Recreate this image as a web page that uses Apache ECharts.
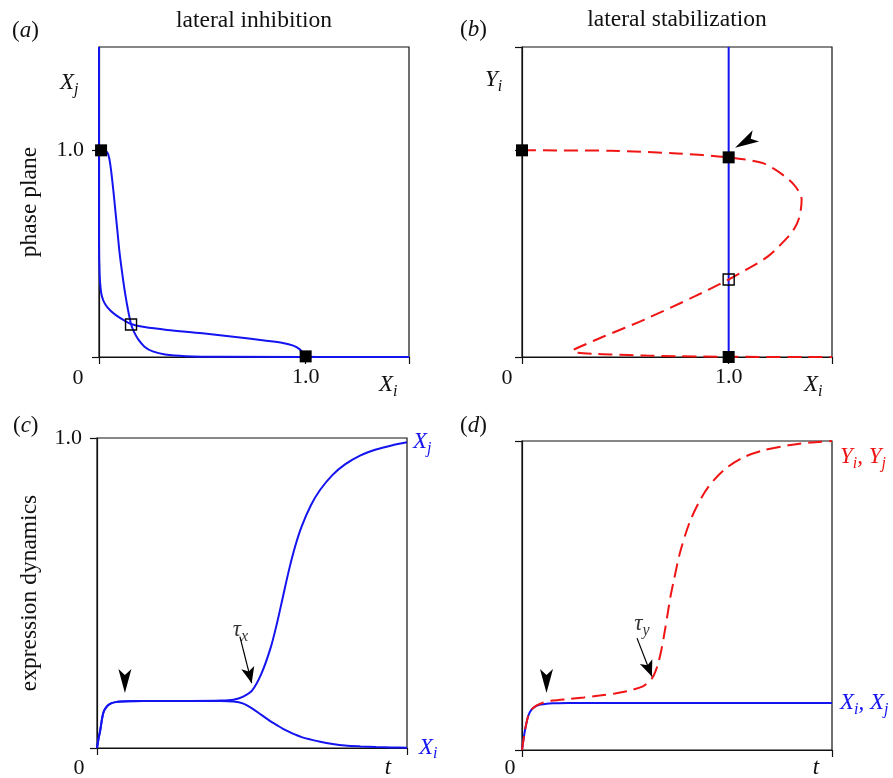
<!DOCTYPE html>
<html>
<head>
<meta charset="utf-8">
<title>lateral inhibition / lateral stabilization</title>
<script src="https://cdn.jsdelivr.net/npm/echarts@6.0.0/dist/echarts.min.js"></script>
<style>
  html, body { margin: 0; padding: 0; background: #fff; }
  #chart { width: 893px; height: 778px; }
</style>
</head>
<body>
<div id="chart"></div>
<script>
// ---------------- data ----------------
// (a) phase plane, lateral inhibition: the two nullclines as [Xi, Xj]
var nullXiA = [[0, 1.5], [0, 0.55], [0.003, 0.4], [0.008, 0.33], [0.015, 0.29], [0.03, 0.255],
  [0.055, 0.225], [0.085, 0.2], [0.12, 0.178], [0.155, 0.16], [0.22, 0.145], [0.33, 0.131],
  [0.5, 0.115], [0.65, 0.098], [0.8, 0.08], [0.89, 0.068], [0.94, 0.055], [0.97, 0.038],
  [0.99, 0.015], [1.0, 0.003], [1.2, 0], [1.5, 0]];
var nullXjA = [[0, 1.5], [0, 1.0], [0.02, 1.0], [0.04, 0.99], [0.05, 0.96], [0.06, 0.89],
  [0.07, 0.8], [0.08, 0.7], [0.09, 0.6], [0.1, 0.5], [0.113, 0.4], [0.126, 0.31], [0.14, 0.23],
  [0.155, 0.16], [0.17, 0.12], [0.19, 0.085], [0.22, 0.05], [0.26, 0.027], [0.32, 0.012],
  [0.42, 0.004], [0.6, 0.001], [1.5, 0]];
var stableA = [[0.01, 1.0], [1.0, 0.003]];
var saddleA = [[0.155, 0.157]];

// (b) phase plane, lateral stabilization: [Xi, Yi]
var nullXB = [[1.0, 0], [1.0, 1.5]];
var nullYB = [[0, 1.0], [0.43, 0.998], [0.75, 0.985], [1.0, 0.966], [1.16, 0.94], [1.22, 0.91],
  [1.27, 0.875], [1.31, 0.84], [1.34, 0.8], [1.353, 0.762], [1.35, 0.72], [1.34, 0.67],
  [1.32, 0.625], [1.29, 0.584], [1.19, 0.487], [1.08, 0.42], [1.0, 0.375], [0.835, 0.293],
  [0.59, 0.18], [0.395, 0.099], [0.3, 0.058], [0.25, 0.036], [0.245, 0.03], [0.27, 0.021],
  [0.35, 0.015], [0.43, 0.012], [0.6, 0.007], [0.75, 0.004], [1.0, 0.001], [1.5, 0]];
var stableB = [[0, 1.0], [1.0, 0.966], [1.0, 0]];
var saddleB = [[1.0, 0.375]];

// (c) expression dynamics, lateral inhibition
var tC  = [0, 0.005, 0.01, 0.02, 0.03, 0.045, 0.06, 0.08, 0.1, 0.2, 0.3, 0.4, 0.44, 0.47, 0.5,
  0.53, 0.56, 0.58, 0.6, 0.62, 0.64, 0.66, 0.69, 0.72, 0.76, 0.8, 0.85, 0.9, 0.95, 1.0];
var xjC = [0, 0.03, 0.055, 0.112, 0.132, 0.144, 0.148, 0.15, 0.151, 0.152, 0.152, 0.153, 0.156,
  0.165, 0.185, 0.239, 0.323, 0.4, 0.489, 0.577, 0.653, 0.714, 0.783, 0.833, 0.881, 0.915,
  0.944, 0.963, 0.976, 0.986];
var xiC = [0, 0.03, 0.055, 0.112, 0.132, 0.144, 0.148, 0.15, 0.151, 0.152, 0.152, 0.152, 0.15,
  0.144, 0.128, 0.107, 0.086, 0.074, 0.062, 0.052, 0.043, 0.035, 0.027, 0.02, 0.013, 0.008,
  0.005, 0.003, 0.002, 0.001];

// (d) expression dynamics, lateral stabilization
var tD = [0, 0.005, 0.01, 0.02, 0.03, 0.045, 0.06, 0.08, 0.1, 0.15, 0.2, 0.25, 0.3, 0.35, 0.39,
  0.41, 0.42, 0.43, 0.44, 0.45, 0.46, 0.47, 0.48, 0.49, 0.51, 0.54, 0.57, 0.6, 0.65, 0.71, 0.78,
  0.86, 0.93, 1.0];
var xD = [0, 0.035, 0.066, 0.11, 0.13, 0.142, 0.147, 0.15, 0.151, 0.152, 0.152, 0.152, 0.152,
  0.152, 0.152, 0.152, 0.152, 0.152, 0.152, 0.152, 0.152, 0.152, 0.152, 0.152, 0.152, 0.152,
  0.152, 0.152, 0.152, 0.152, 0.152, 0.152, 0.152, 0.152];
var yD = [0, 0.035, 0.066, 0.11, 0.13, 0.143, 0.15, 0.157, 0.16, 0.165, 0.17, 0.176, 0.183,
  0.193, 0.206, 0.221, 0.233, 0.253, 0.283, 0.326, 0.381, 0.442, 0.502, 0.55, 0.64, 0.735,
  0.8, 0.85, 0.905, 0.945, 0.97, 0.986, 0.995, 1.0];

// tick values
var phaseLabels = [1.0];
var phaseTicksX = [0, 1.0, 1.5];
var phaseTicksYa = [0, 1.0];
var phaseTicksYb = [0, 1.0, 1.5];
var dynTicks = [0, 1.0];

// annotations (data coordinates)
var headB = [[1.089, 1.055]];
var headC = [[0.09, 0.216]];
var headD = [[0.079, 0.223]];
var tauArrowC = [[0.461, 0.359], [0.499, 0.209]];
var tauArrowD = [[0.371, 0.362], [0.419, 0.238]];
var tauLabelC = [[0.463, 0.381]];
var tauLabelD = [[0.387, 0.408]];

// ---------------- chart ----------------
var BLUE = '#1414f0';
var RED = '#f01414';
var SERIF = '"Liberation Serif", "DejaVu Serif", serif';
var HEAD_DOWN = 'path://M0,24 L-6.5,0 L0,6 L6.5,0 Z';
var HEAD_DOWNLEFT = 'path://M0,17.5 L17.7,0 L15.7,8.6 L24.1,11.4 Z';

function rich(color) {
  return {
    v: { fontFamily: SERIF, fontStyle: 'italic', fontSize: 23, color: color },
    s: { fontFamily: SERIF, fontStyle: 'italic', fontSize: 16, color: color, padding: [13, 0, 0, 0] },
    n: { fontFamily: SERIF, fontSize: 23, color: color }
  };
}
function pairs(t, v) {
  return t.map(function (x, i) { return [x, v[i]]; });
}

function xAx(grid, max, ticks, labels) {
  return {
    type: 'value', gridIndex: grid, min: 0, max: max,
    axisLine: { lineStyle: { color: '#111', width: 1.2 } },
    splitLine: { show: false },
    axisTick: { customValues: ticks, length: 7, lineStyle: { color: '#111', width: 1.2 } },
    axisLabel: {
      show: !!labels, customValues: labels || [], margin: 9,
      formatter: function (v) { return v.toFixed(1); },
      fontFamily: SERIF, fontSize: 22, color: '#111'
    }
  };
}
function yAx(grid, max, ticks, labels) {
  var a = xAx(grid, max, ticks, labels);
  a.axisLabel.margin = 15;
  return a;
}

var grids = [
  { left: 99, top: 47, width: 310, height: 310 },
  { left: 522, top: 47, width: 310, height: 310 },
  { left: 97, top: 438, width: 310, height: 310 },
  { left: 522, top: 441, width: 310, height: 309 }
].map(function (g) {
  g.show = true; g.borderColor = '#111'; g.borderWidth = 1.2;
  return g;
});

function curve(i, data, color, dashed) {
  return {
    type: 'line', xAxisIndex: i, yAxisIndex: i, data: data,
    symbol: 'none', smooth: 0.3, silent: true, z: 3,
    lineStyle: { color: color, width: 2, type: dashed ? [14, 7] : 'solid' }
  };
}
function squares(i, data, open) {
  return {
    type: 'scatter', xAxisIndex: i, yAxisIndex: i, data: data, silent: true, z: 6,
    symbol: 'rect', symbolSize: open ? 11 : 12,
    itemStyle: open ? { color: 'rgba(0,0,0,0)', borderColor: '#000', borderWidth: 1.4, opacity: 1 }
                    : { color: '#000', opacity: 1 }
  };
}
function head(i, data, sym, size) {
  return {
    type: 'scatter', xAxisIndex: i, yAxisIndex: i, data: data, silent: true, z: 7,
    symbol: sym, symbolSize: size, itemStyle: { color: '#000', opacity: 1 }
  };
}
function tauArrow(pts) {
  return {
    silent: true, symbol: ['none', 'arrow'], symbolSize: [10, 16],
    lineStyle: { color: '#000', width: 1.2, type: 'solid', opacity: 1 },
    itemStyle: { color: '#000' },
    label: { show: false },
    data: [[{ coord: pts[0] }, { coord: pts[1] }]]
  };
}
function tauLabel(i, data, sub) {
  return {
    type: 'scatter', xAxisIndex: i, yAxisIndex: i, data: data, silent: true,
    symbolSize: 0,
    label: { show: true, position: 'inside', formatter: '{v|\u03c4}{s|' + sub + '}', rich: rich('#000') }
  };
}

var xjSeries = curve(2, pairs(tC, xjC), BLUE, false);
xjSeries.endLabel = { show: true, distance: 6, formatter: '{v|X}{s|j}', rich: rich(BLUE) };
xjSeries.markLine = tauArrow(tauArrowC);
var xiSeries = curve(2, pairs(tC, xiC), BLUE, false);
xiSeries.endLabel = { show: true, distance: 12, formatter: '{v|X}{s|i}', rich: rich(BLUE) };

var xdSeries = curve(3, pairs(tD, xD), BLUE, false);
xdSeries.endLabel = { show: true, distance: 8, formatter: '{v|X}{s|i}{v|, X}{s|j}', rich: rich(BLUE) };
var ydSeries = curve(3, pairs(tD, yD), RED, true);
ydSeries.z = 4;
ydSeries.endLabel = { show: true, distance: 8, offset: [0, 16], formatter: '{v|Y}{s|i}{v|, Y}{s|j}', rich: rich(RED) };
ydSeries.markLine = tauArrow(tauArrowD);

function txt(x, y, text, opts) {
  opts = opts || {};
  return {
    type: 'text', x: x, y: y, rotation: opts.rot || 0, silent: true,
    style: {
      text: text, rich: rich(opts.color || '#111'),
      fontFamily: SERIF, fontSize: opts.size || 23.5, fill: opts.color || '#111',
      align: opts.align || 'center', verticalAlign: 'middle'
    }
  };
}

var option = {
  animation: false,
  backgroundColor: '#fff',
  grid: grids,
  xAxis: [
    xAx(0, 1.5, phaseTicksX, phaseLabels),
    xAx(1, 1.5, phaseTicksX, phaseLabels),
    xAx(2, 1, dynTicks, null),
    xAx(3, 1, dynTicks, null)
  ],
  yAxis: [
    yAx(0, 1.5, phaseTicksYa, phaseLabels),
    yAx(1, 1.5, phaseTicksYb, null),
    yAx(2, 1, dynTicks, phaseLabels),
    yAx(3, 1, dynTicks, null)
  ],
  series: [
    curve(0, nullXiA, BLUE, false),
    curve(0, nullXjA, BLUE, false),
    squares(0, stableA, false),
    squares(0, saddleA, true),

    curve(1, nullXB, BLUE, false),
    curve(1, nullYB, RED, true),
    squares(1, stableB, false),
    squares(1, saddleB, true),
    head(1, headB, HEAD_DOWNLEFT, [24, 17.5]),

    xjSeries, xiSeries,
    head(2, headC, HEAD_DOWN, [13, 24]),
    tauLabel(2, tauLabelC, 'x'),

    xdSeries, ydSeries,
    head(3, headD, HEAD_DOWN, [13, 24]),
    tauLabel(3, tauLabelD, 'y')
  ],
  graphic: [
    txt(254, 21, 'lateral inhibition'),
    txt(677, 20, 'lateral stabilization'),
    txt(12, 31, '{n|(}{v|a}{n|)}', { align: 'left' }),
    txt(460, 30, '{n|(}{v|b}{n|)}', { align: 'left' }),
    txt(13, 426, '{n|(}{v|c}{n|)}', { align: 'left' }),
    txt(460, 426, '{n|(}{v|d}{n|)}', { align: 'left' }),
    txt(30, 202, 'phase plane', { rot: Math.PI / 2 }),
    txt(30, 593, 'expression dynamics', { rot: Math.PI / 2 }),
    txt(60, 83, '{v|X}{s|j}', { align: 'left' }),
    txt(379, 385, '{v|X}{s|i}', { align: 'left' }),
    txt(485, 80, '{v|Y}{s|i}', { align: 'left' }),
    txt(804, 385, '{v|X}{s|i}', { align: 'left' }),
    txt(78, 378, '0', { size: 22 }),
    txt(507, 378, '0', { size: 22 }),
    txt(79, 768, '0', { size: 22 }),
    txt(510, 768, '0', { size: 22 }),
    txt(388, 768, '{v|t}'),
    txt(816, 768, '{v|t}')
  ]
};

var chart = echarts.init(document.getElementById('chart'));
chart.setOption(option);
</script>
</body>
</html>
